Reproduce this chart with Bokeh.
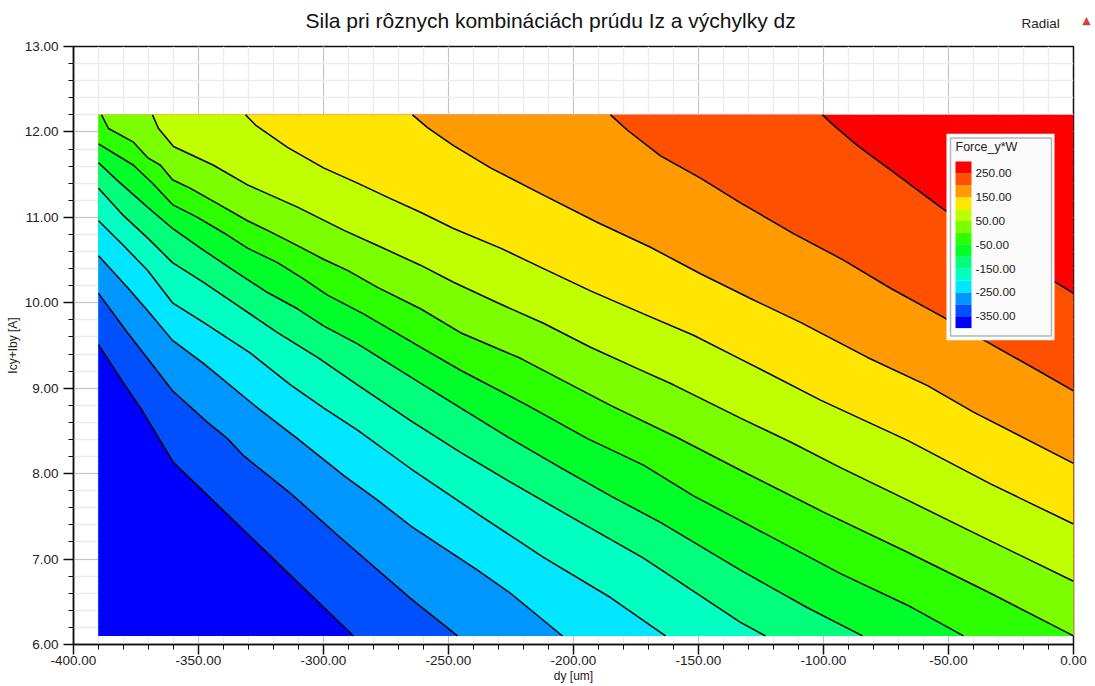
from bokeh.plotting import figure
from bokeh.embed import file_html
from bokeh.resources import INLINE
from bokeh.core.properties import value
from bokeh.models import SingleIntervalTicker, NumeralTickFormatter, BoxAnnotation, Label

TITLE = "Sila pri rôznych kombináciách prúdu Iz a výchylky dz"
X_LABEL = "dy [um]"
Y_LABEL = "Icy+Iby [A]"
LEGEND_TITLE = "Force_y*W"
FONT = "Liberation Sans"

X_MIN, X_MAX, Y_MIN, Y_MAX = -390.0, 0.0, 6.1, 12.2

# Band colours from the lowest band to the highest
BANDS = ["#0000ff", "#0050ff", "#0096ff", "#00e6ff", "#00ffc3", "#00ff7a", "#00ff2a",
         "#2cff00", "#7bff00", "#c0ff00", "#ffe600", "#ff9b00", "#ff5000", "#ff0000"]
LEVELS = [-400, -350, -300, -250, -200, -150, -100, -50, 0, 50, 100, 150, 200, 250, 300]
LEGEND_TICKS = [250, 150, 50, -50, -150, -250, -350]

L1_x = [-390, -380, -373.2, -360, -322.4, -288]
L1_y = [9.51, 9.06, 8.77, 8.13, 7.07, 6.1]
L2_x = [-390, -378.4, -372, -360.4, -346.4, -338.4, -332, -313.2, -293.2, -265.2, -246.4]
L2_y = [10.11, 9.65, 9.41, 8.97, 8.60, 8.41, 8.21, 7.77, 7.25, 6.54, 6.1]
L3_x = [-390, -378.4, -370.4, -360.4, -348, -326.4, -310.4, -292, -278.4, -265.2, -238.4, -225.2, -204.4]
L3_y = [10.55, 10.18, 9.91, 9.56, 9.29, 8.77, 8.41, 7.98, 7.69, 7.39, 6.87, 6.60, 6.1]
L4_x = [-390, -380, -370.4, -360.4, -348, -329.2, -313.2, -300, -286.4, -265.2, -238.4, -212, -185.2, -163.2]
L4_y = [10.96, 10.67, 10.38, 10.00, 9.77, 9.41, 9.04, 8.77, 8.51, 8.06, 7.53, 7.02, 6.55, 6.1]
L5_x = [-390, -380, -370.4, -360.4, -348, -334.4, -318.4, -302.4, -286.4, -265.2, -245.2, -225.2, -198.4, -172, -133.2, -123.2]
L5_y = [11.34, 11.02, 10.76, 10.47, 10.24, 9.97, 9.65, 9.36, 9.04, 8.62, 8.25, 7.90, 7.45, 7.01, 6.26, 6.1]
L6_x = [-390, -382.4, -370.4, -360.4, -349.2, -336, -322.4, -310.4, -300, -286.4, -261.2, -245.2, -225.2, -205.2, -185.2, -165.2, -133.2, -106.4, -84.4]
L6_y = [11.64, 11.43, 11.12, 10.87, 10.64, 10.38, 10.12, 9.93, 9.73, 9.52, 9.06, 8.77, 8.41, 8.07, 7.74, 7.43, 6.87, 6.43, 6.1]
L7_x = [-390, -376, -368.4, -360.4, -350.4, -340, -330.4, -318.4, -308, -298.4, -284, -261.2, -245.2, -218.4, -194.4, -172, -152, -133.2, -93.2, -66.4, -44]
L7_y = [11.86, 11.61, 11.40, 11.15, 11.00, 10.82, 10.64, 10.47, 10.28, 10.09, 9.87, 9.48, 9.21, 8.80, 8.41, 8.10, 7.74, 7.45, 6.83, 6.46, 6.1]
L8_x = [-388.8, -386, -376, -370.4, -365.2, -360.4, -353.2, -342.4, -330.4, -321.2, -310.4, -300, -290.4, -278.4, -261.2, -245.2, -221.2, -185.2, -158.4, -133.2, -100, -66.4, -33.2, 0]
L8_y = [12.2, 12.04, 11.88, 11.70, 11.61, 11.44, 11.34, 11.16, 10.96, 10.83, 10.67, 10.51, 10.38, 10.18, 9.93, 9.65, 9.35, 8.80, 8.42, 8.04, 7.55, 7.08, 6.60, 6.1]
L9_x = [-368.4, -366, -360, -344, -330.4, -310.4, -292, -278.4, -261.2, -248, -230.4, -212, -193.2, -174.4, -160, -133.2, -113.2, -93.2, -66.4, -40, 0]
L9_y = [12.2, 12.04, 11.83, 11.61, 11.38, 11.12, 10.85, 10.67, 10.44, 10.24, 10.00, 9.76, 9.48, 9.23, 9.04, 8.65, 8.37, 8.07, 7.69, 7.31, 6.74]
L10_x = [-331.2, -327.2, -314.4, -300, -286.4, -273.2, -261.2, -248, -229.2, -212, -193.2, -172, -152, -133.2, -124.4, -101.2, -66.4, -33.2, 0]
L10_y = [12.2, 12.08, 11.82, 11.58, 11.40, 11.22, 11.06, 10.87, 10.64, 10.40, 10.14, 9.87, 9.62, 9.34, 9.21, 8.86, 8.39, 7.88, 7.41]
L11_x = [-264.4, -258.4, -248, -233.2, -212, -190.4, -169.2, -149.2, -129.2, -109.2, -82.4, -58.4, -40, 0]
L11_y = [12.2, 12.05, 11.84, 11.58, 11.26, 10.94, 10.65, 10.34, 10.05, 9.77, 9.36, 9.03, 8.72, 8.12]
L12_x = [-185.2, -178.4, -165.2, -149.2, -133.2, -112, -92, -73.2, -53.2, -14.4, 0]
L12_y = [12.2, 12.02, 11.72, 11.46, 11.17, 10.81, 10.50, 10.17, 9.85, 9.21, 8.97]
L13_x = [-100.4, -96, -86.4, -72, -53.2, -29.2, 0]
L13_y = [12.2, 12.08, 11.84, 11.53, 11.12, 10.64, 10.11]

CONTOURS = [(L1_x, L1_y), (L2_x, L2_y), (L3_x, L3_y), (L4_x, L4_y), (L5_x, L5_y), (L6_x, L6_y), (L7_x, L7_y),
            (L8_x, L8_y), (L9_x, L9_y), (L10_x, L10_y), (L11_x, L11_y), (L12_x, L12_y), (L13_x, L13_y)]

p = figure(width=1095, height=686, frame_width=1000, frame_height=598,
           x_range=(-400, 0), y_range=(6, 13), output_backend="svg", toolbar_location=None,
           min_border_left=73, min_border_right=22, min_border_top=46, min_border_bottom=42)
p.background_fill_color = "white"
p.border_fill_color = "white"
p.outline_line_color = "#111111"
p.outline_line_width = 1.5

p.title.text = TITLE
p.title.text_font = FONT
p.title.text_font_size = "21px"
p.title.text_font_style = "normal"
p.title.text_color = "#111111"
p.title.align = "left"
p.title.offset = 232
p.title.standoff = 0

for ax, label, interval in ((p.xaxis[0], X_LABEL, 50), (p.yaxis[0], Y_LABEL, 1)):
    ax.ticker = SingleIntervalTicker(interval=interval, num_minor_ticks=5)
    ax.formatter = NumeralTickFormatter(format="0.00")
    ax.axis_label = label
    ax.axis_label_text_font = FONT
    ax.axis_label_text_font_style = "normal"
    ax.axis_label_text_font_size = "12px"
    ax.axis_label_text_color = "#222222"
    ax.major_label_text_font = FONT
    ax.major_label_text_font_size = "13.5px"
    ax.major_label_text_color = "#222222"
    ax.axis_line_color = "#111111"
    ax.axis_line_width = 1.5
    ax.major_tick_line_color = "#111111"
    ax.minor_tick_line_color = "#111111"
    ax.major_tick_line_width = 1.5
    ax.major_tick_out = 10
    ax.major_tick_in = 0
    ax.minor_tick_out = 5
    ax.minor_tick_in = 0
p.xaxis[0].major_label_standoff = 1
p.xaxis[0].axis_label_standoff = 1
p.yaxis[0].major_label_standoff = 5
p.yaxis[0].axis_label_standoff = 2

for g in (p.xgrid[0], p.ygrid[0]):
    g.grid_line_color = "#c4c4c4"
    g.grid_line_width = 1
    g.minor_grid_line_color = "#ececec"
    g.minor_grid_line_width = 1.5
p.xgrid[0].ticker = p.xaxis[0].ticker
p.ygrid[0].ticker = p.yaxis[0].ticker

# Filled bands: the top band first, then each lower band painted over it
p.patch([X_MIN, X_MAX, X_MAX, X_MIN], [Y_MIN, Y_MIN, Y_MAX, Y_MAX], fill_color=BANDS[-1], line_color=None)
for i in range(len(CONTOURS) - 1, -1, -1):
    xs, ys = list(CONTOURS[i][0]), list(CONTOURS[i][1])
    if xs[-1] == X_MAX and ys[-1] != Y_MIN:
        xs.append(X_MAX); ys.append(Y_MIN)
    xs.append(X_MIN); ys.append(Y_MIN)
    if CONTOURS[i][1][0] == Y_MAX:
        xs.append(X_MIN); ys.append(Y_MAX)
    p.patch(xs, ys, fill_color=BANDS[i], line_color=None)
for cx, cy in CONTOURS:
    p.line(cx, cy, line_color="black", line_width=1.5)

# Legend box, drawn with the plot's own scales
LEG_LEFT, LEG_RIGHT, LEG_TOP, LEG_STEP = -47.2, -40.8, 11.654, 0.1393
def leg_y(v):
    return LEG_TOP - (LEVELS[-1] - v) / 50 * LEG_STEP

p.add_layout(BoxAnnotation(left=-50.8, right=-7.6, top=11.98, bottom=9.56, fill_color="white", fill_alpha=1,
                           line_color=None, level="glyph"))
p.add_layout(BoxAnnotation(left=-49.2, right=-8.8, top=11.93, bottom=9.61, fill_color="#fbfbfb", fill_alpha=1,
                           line_color="#111111", line_width=1.5, level="glyph"))
p.quad(left=LEG_LEFT, right=LEG_RIGHT, bottom=[leg_y(v) for v in LEVELS[:-1]], top=[leg_y(v) for v in LEVELS[1:]],
       fill_color=BANDS, line_color=None, level="overlay")
p.text(x=[LEG_RIGHT + 1.6] * len(LEGEND_TICKS), y=[leg_y(v) for v in LEGEND_TICKS],
       text=["%.2f" % v for v in LEGEND_TICKS], text_font=value(FONT), text_font_size="11.8px",
       text_color="#222222", text_baseline="middle", text_align="left", level="overlay")
p.text(x=[LEG_LEFT], y=[11.818], text=[LEGEND_TITLE], text_font=value(FONT), text_font_size="12.5px",
       text_color="#222222", text_baseline="middle", text_align="left", level="overlay")

p.add_layout(Label(x=1021, y=23, x_units="canvas", y_units="canvas", text="Radial", text_font=FONT, text_font_size="13.5px",
                   text_color="#222222", text_align="left", text_baseline="middle"), "above")
p.add_layout(Label(x=1086, y=20, x_units="canvas", y_units="canvas", text="▲", text_font="DejaVu Sans", text_font_size="11px",
                   text_color="#c9443f", text_align="center", text_baseline="middle"), "right")

open("out.html", "w").write(file_html(p, INLINE))
